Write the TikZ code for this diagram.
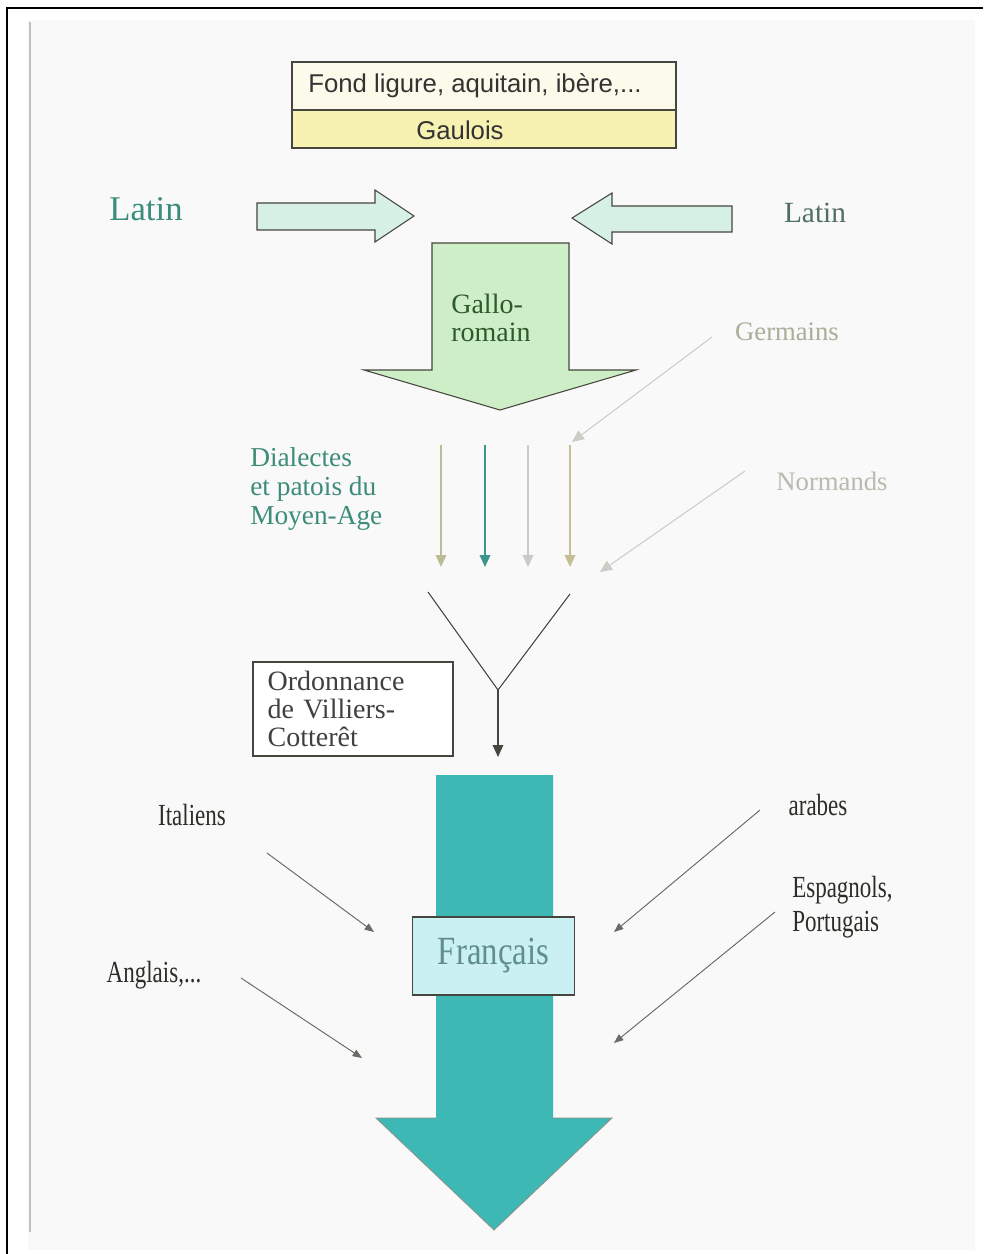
\documentclass[tikz,border=0pt]{standalone}
\usepackage{fontspec}
\setmainfont{Liberation Serif}
\newfontfamily\sansf{Liberation Sans}
\newfontfamily\condf[FakeStretch=0.75]{Liberation Serif}
\newfontfamily\fracf[FakeStretch=0.82]{Liberation Serif}
\usetikzlibrary{arrows.meta}
\definecolor{pagegray}{RGB}{249,249,249}
\definecolor{creamtop}{RGB}{252,250,234}
\definecolor{yellowbot}{RGB}{247,241,178}
\definecolor{mint}{RGB}{214,240,230}
\definecolor{gallogreen}{RGB}{206,238,200}
\definecolor{teal}{RGB}{62,184,180}
\definecolor{frcyan}{RGB}{202,240,244}
\definecolor{latinteal}{RGB}{58,140,124}
\definecolor{latingray}{RGB}{80,110,102}
\definecolor{gallotext}{RGB}{45,90,45}
\definecolor{germgray}{RGB}{168,174,152}
\definecolor{normgray}{RGB}{185,185,175}
\definecolor{dialteal}{RGB}{60,140,120}
\definecolor{khaki}{RGB}{188,188,150}
\definecolor{khakib}{RGB}{195,190,150}
\definecolor{vteal}{RGB}{60,150,140}
\definecolor{vgray}{RGB}{198,204,198}
\definecolor{faint}{RGB}{205,205,198}
\definecolor{darkline}{RGB}{70,70,62}
\definecolor{labeltext}{RGB}{45,45,40}
\definecolor{frtext}{RGB}{95,143,138}
\tikzset{
  topbox/.style={draw=darkline, line width=0.8pt, inner sep=0pt},
  toptext/.style={font=\sansf\fontsize{19.3}{22}\selectfont, text=black!80, inner sep=0pt},
  blockarrow/.style={draw=darkline, line width=0.8pt, line join=miter},
  vline/.style={line width=1.1pt, -{Triangle[width=8pt,length=9pt]}},
  faintarrow/.style={draw=faint, line width=0.8pt, -{Triangle[width=8pt,length=9pt]}},
  smallarrow/.style={draw=darkline!80, line width=0.7pt, -{Triangle[width=5.5pt,length=7pt]}},
  condlabel/.style={font=\condf\fontsize{23}{24}\selectfont, text=labeltext, align=left, inner sep=0pt},
}
\begin{document}
\begin{tikzpicture}[x=0.75pt,y=-0.75pt]
\useasboundingbox (0,0) rectangle (983,1254);
\fill[white] (0,0) rectangle (983,1254);
\fill[pagegray] (28,20) rectangle (975,1250);
\draw[black!25, line width=2pt] (30,22) -- (30,1232);
\draw[black, line width=1.5pt] (7,1254) -- (7,8) -- (983,8);

% top box
\node[topbox, fill=creamtop, minimum width=288pt, minimum height=36pt] (fondbox) at (484,86) {};
\node[topbox, fill=yellowbot, minimum width=288pt, minimum height=28.5pt] (gauloisbox) at (484,129) {};
\node[toptext] (fond) at (475,86) {Fond ligure, aquitain, ib\`ere,...};
\node[toptext] (gaulois) at (460,130) {Gaulois};

% Latin
\node[text=latinteal, font=\fontsize{26}{30}\selectfont, inner sep=0pt] (latinL) at (146,209) {Latin};
\node[text=latingray, font=\fontsize{22}{26}\selectfont, inner sep=0pt] (latinR) at (815,213) {Latin};
\draw[blockarrow, fill=mint] (257,203) -- (375,203) -- (375,190) -- (414,216) -- (375,242) -- (375,230) -- (257,230) -- cycle;
\draw[blockarrow, fill=mint] (732,206) -- (612,206) -- (612,193) -- (572,218) -- (612,244) -- (612,232) -- (732,232) -- cycle;

% Gallo-romain arrow
\draw[blockarrow, fill=gallogreen] (432,243) -- (569,243) -- (569,370) -- (636,370) -- (500,410) -- (364,370) -- (432,370) -- cycle;
\node[text=gallotext, font=\fontsize{21}{20.5}\selectfont, align=left, inner sep=0pt] (gallo) at (491,318) {Gallo-\\romain};

% Germains / Normands
\node[text=germgray, font=\fontsize{20}{24}\selectfont, inner sep=0pt] (germ) at (787,332) {Germains};
\node[text=normgray, font=\fontsize{20}{24}\selectfont, inner sep=0pt] (norm) at (832,481) {Normands};
\coordinate (germS) at (712,337);
\coordinate (germE) at (572,442);
\coordinate (normS) at (745,471);
\coordinate (normE) at (600,572);
\draw[faintarrow] (germS) -- (germE);
\draw[faintarrow] (normS) -- (normE);

% Dialectes
\node[text=dialteal, font=\fontsize{20.5}{21.5}\selectfont, align=left, anchor=west, inner sep=0pt] (dial) at (250,489) {Dialectes\\et patois du\\Moyen-Age};

% vertical arrows
\coordinate (v1s) at (441,445); \coordinate (v1e) at (441,567);
\coordinate (v2s) at (485,445); \coordinate (v2e) at (485,567);
\coordinate (v3s) at (528,445); \coordinate (v3e) at (528,567);
\coordinate (v4s) at (570,445); \coordinate (v4e) at (570,567);
\draw[vline, draw=khaki, fill=khaki] (v1s) -- (v1e);
\draw[vline, draw=vteal, fill=vteal] (v2s) -- (v2e);
\draw[vline, draw=vgray, fill=vgray] (v3s) -- (v3e);
\draw[vline, draw=khakib, fill=khakib] (v4s) -- (v4e);

% Y junction
\coordinate (ya) at (428,592);
\coordinate (yb) at (570,594);
\coordinate (yj) at (498,690);
\coordinate (yt) at (498,757);
\draw[darkline, line width=0.8pt] (ya) -- (yj) -- (yb);
\draw[darkline, line width=0.9pt, -{Triangle[width=8pt,length=9pt]}] (yj) -- (yt);

% Ordonnance box
\node[draw=darkline, line width=0.8pt, fill=white, minimum width=150pt, minimum height=70.5pt, text width=128pt, align=left, inner sep=0pt, text=black!75, font=\fontsize{21}{21}\selectfont] (ordo) at (353,709) {Ordonnance\\de Villiers-\\Cotter\^et};

% big teal arrow
\fill[teal] (436,775) -- (553,775) -- (553,1118) -- (612,1118) -- (494,1230) -- (376,1118) -- (436,1118) -- cycle;
\draw[darkline!60, line width=0.6pt] (553,1118) -- (612,1118) -- (494,1230) -- (376,1118) -- (436,1118);

% Francais box
\node[draw=darkline, line width=0.8pt, fill=frcyan, minimum width=122pt, minimum height=58.5pt, inner sep=0pt, text=frtext, font=\fracf\fontsize{30}{30}\selectfont] (fr) at (493.5,956) {Fran\c{c}ais};

% labels and small arrows
\node[condlabel] (ital) at (192,815) {Italiens};
\node[condlabel] (arab) at (818,805) {arabes};
\node[condlabel, anchor=west] (esp) at (792,907) {Espagnols,\\[2pt]Portugais};
\node[condlabel] (angl) at (154,975) {Anglais,...};
\coordinate (italS) at (267,853); \coordinate (italE) at (374,932);
\coordinate (arabS) at (760,810); \coordinate (arabE) at (614,932);
\coordinate (espS) at (775,912); \coordinate (espE) at (614,1043);
\coordinate (anglS) at (241,978); \coordinate (anglE) at (362,1058);
\draw[smallarrow, fill=darkline!80] (italS) -- (italE);
\draw[smallarrow, fill=darkline!80] (arabS) -- (arabE);
\draw[smallarrow, fill=darkline!80] (espS) -- (espE);
\draw[smallarrow, fill=darkline!80] (anglS) -- (anglE);
\end{tikzpicture}
\end{document}
